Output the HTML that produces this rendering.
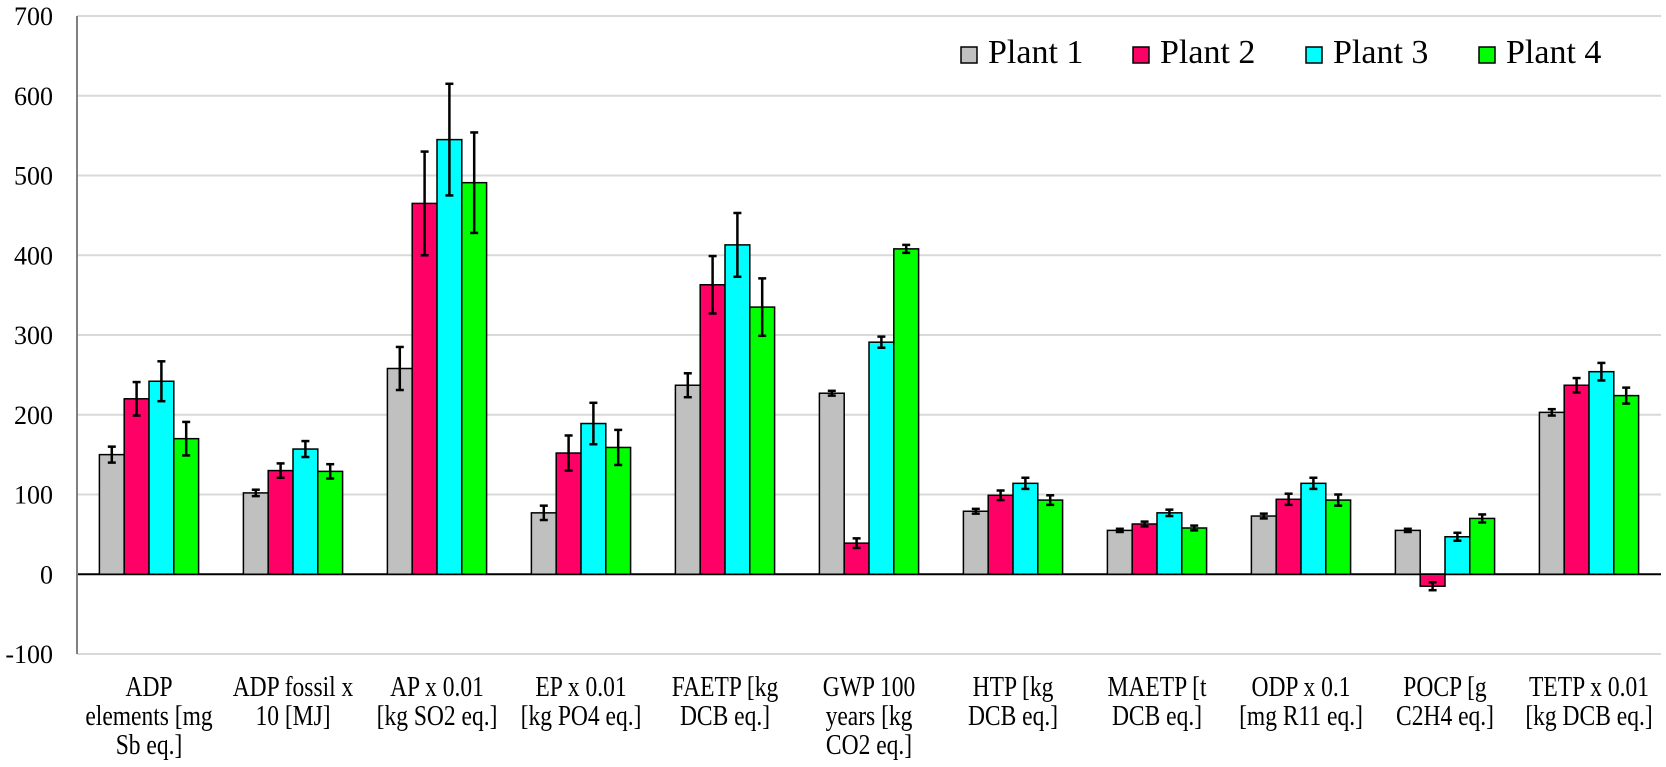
<!DOCTYPE html>
<html><head><meta charset="utf-8"><style>
html,body{margin:0;padding:0;background:#fff;}
svg{display:block;font-family:"Liberation Serif",serif;}
</style></head><body>
<svg id="chart" width="1666" height="767"></svg>
<script>
const categories=[["ADP","elements [mg","Sb eq.]"],["ADP fossil x","10 [MJ]"],["AP x 0.01","[kg SO2 eq.]"],["EP x 0.01","[kg PO4 eq.]"],["FAETP [kg","DCB eq.]"],["GWP 100","years [kg","CO2 eq.]"],["HTP [kg","DCB eq.]"],["MAETP [t","DCB eq.]"],["ODP x 0.1","[mg R11 eq.]"],["POCP [g","C2H4 eq.]"],["TETP x 0.01","[kg DCB eq.]"]];
const seriesNames=["Plant 1","Plant 2","Plant 3","Plant 4"];
const plant1=[150,102,258,77,237,227,79,55,73,55,203];
const plant2=[220,130,465,152,363,39,99,63,94,-15,237];
const plant3=[242,157,545,189,413,291,114,77,114,47,254];
const plant4=[170,129,491,159,335,408,93,58,93,70,224];
const err1=[10,4,27,9,15,3,3,2,3,2,4];
const err2=[21,9,65,22,36,6,6,3,7,5,9];
const err3=[25,10,70,26,40,7,7,4,7,5,11];
const err4=[21,9,63,22,36,5,6,3,7,5,10];
const yTicks=[-100,0,100,200,300,400,500,600,700];
const colors=["#c0c0c0","#ff0066","#00ffff","#00ff00"];
const values=[plant1,plant2,plant3,plant4], errs=[err1,err2,err3,err4];

const NS="http://www.w3.org/2000/svg";
const svg=document.getElementById('chart');
const X0=77, X1=1661, Y0=16, Y1=654, yMin=-100, yMax=700;
const y=v=>Y0+(yMax-v)/(yMax-yMin)*(Y1-Y0);
const catW=(X1-X0)/categories.length, barW=24.8;
const x=(c,s)=>X0+c*catW+(catW-4*barW)/2+s*barW;
function el(t,a,p){const e=document.createElementNS(NS,t);for(const k in a)e.setAttribute(k,a[k]);(p||svg).appendChild(e);return e;}

yTicks.forEach(t=>{
  const g=el('line',{x1:X0,x2:X1,y1:y(t),y2:y(t),stroke:t===0?'#000':'#d9d9d9','stroke-width':2});
  
  
  const l=el('text',{x:53,y:y(t)+9,'text-anchor':'end','font-size':26});
  l.textContent=t;
  
  
});
const ax=el('line',{x1:X0,x2:X0,y1:Y0,y2:Y1,stroke:'#808080','stroke-width':2});



categories.forEach((lines,c)=>{
  for(let s=0;s<4;s++){
    const v=values[s][c], e=errs[s][c];
    const top=Math.min(y(v),y(0)), h=Math.abs(y(v)-y(0));
    const r=el('rect',{x:x(c,s),y:top,width:barW,height:h,fill:colors[s],stroke:'#000','stroke-width':1.5});
    
    
    const cx=x(c,s)+barW/2;
    const g=el('g',{stroke:'#000','stroke-width':2.5});
    
    
    el('line',{x1:cx,x2:cx,y1:y(v+e),y2:y(v-e)},g);
    el('line',{x1:cx-4,x2:cx+4,y1:y(v+e),y2:y(v+e)},g);
    el('line',{x1:cx-4,x2:cx+4,y1:y(v-e),y2:y(v-e)},g);
  }
  const tg=el('g',{transform:'translate('+(X0+c*catW+catW/2)+',0) scale(0.84,1)'});
  const t=el('text',{'text-anchor':'middle','font-size':28},tg);
  
  
  lines.forEach((ln,i)=>{const ts=el('tspan',{x:0,y:696+i*29},t);ts.textContent=ln;});
});

const legX=[961,1133,1306,1479];
seriesNames.forEach((n,i)=>{
  const g=el('g',{});
  
  
  el('rect',{x:legX[i],y:47,width:16,height:16,fill:colors[i],stroke:'#000','stroke-width':1.5},g);
  const t=el('text',{x:legX[i]+27,y:63,'font-size':34},g);
  t.textContent=n;
});
</script>
</body></html>
